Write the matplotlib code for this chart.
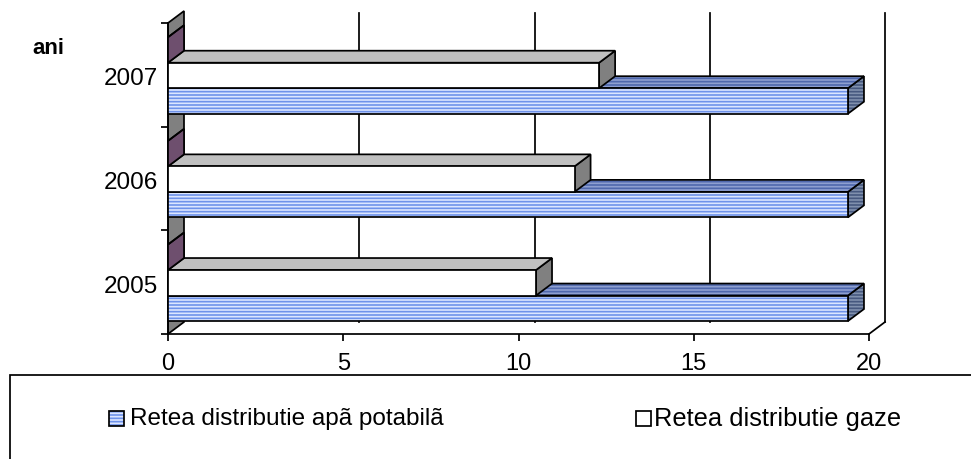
#!/usr/bin/env python
import matplotlib
matplotlib.use("Agg")
import matplotlib.pyplot as plt
from matplotlib.patches import Polygon, Rectangle

plt.rcParams['font.family'] = ['Liberation Sans', 'DejaVu Sans']
plt.rcParams['hatch.linewidth'] = 1.2

# DATA
years = ["2005", "2006", "2007"]
apa = [19.4, 19.4, 19.4]
gaze = [10.5, 11.6, 12.3]
third = [0, 0, 0]
xticks = [0, 5, 10, 15, 20]
label_apa = "Retea distributie apã potabilã"
label_gaze = "Retea distributie gaze"

W, H = 971, 460
LW = 1.25
fig = plt.figure(figsize=(W / 100, H / 100), dpi=100)
# plot area in pixels: x 168-869, y 24-335 from the top
ax = fig.add_axes([168 / W, 1 - 335 / H, 701 / W, 311 / H])
ax.set_xlim(0, 20)
ax.set_ylim(-0.5, 2.5)

# depth of the fake 3d
dx = 16 / 35.05
dy = 12 / 103.67
bar_h = 0.246
gap = 0.125


def face(pts, fc, hatch=None, hc=None):
    if hatch:
        ax.add_patch(Polygon(pts, closed=True, facecolor=fc, edgecolor=hc, hatch=hatch, linewidth=0, clip_on=False, zorder=3))
        ax.add_patch(Polygon(pts, closed=True, fill=False, edgecolor='k', linewidth=LW, clip_on=False, zorder=3))
    else:
        ax.add_patch(Polygon(pts, closed=True, facecolor=fc, edgecolor='k', linewidth=LW, clip_on=False, zorder=3))


def box(val, y0, front, top, side, hatch=None, hc=(None, None, None)):
    y1 = y0 + bar_h
    face([(val, y0), (val + dx, y0 + dy), (val + dx, y1 + dy), (val, y1)], side, hatch, hc[2])
    face([(0, y1), (val, y1), (val + dx, y1 + dy), (dx, y1 + dy)], top, hatch, hc[1])
    if val > 0:
        face([(0, y0), (val, y0), (val, y1), (0, y1)], front, hatch, hc[0])


# back wall grid lines
for v in xticks[1:]:
    ax.plot([v + dx, v + dx], [-0.5 + dy, 2.5 + dy - 0.02], color='k', lw=LW, clip_on=False, zorder=1)

# left wall and floor edges
ax.add_patch(Polygon([(0, -0.5), (dx, -0.5 + dy), (dx, 2.5 + dy), (0, 2.5)], closed=True,
                     facecolor='#808080', edgecolor='k', linewidth=LW, clip_on=False, zorder=2))
ax.plot([20, 20 + dx], [-0.5, -0.5 + dy], color='k', lw=LW, clip_on=False, zorder=1)

# bars, back ones first
for i in [2, 1, 0]:
    y = i - 0.5 + gap
    box(apa[i], y, '#dce6ff', '#8e9fd0', '#8090ad', hatch='-----', hc=('#6e92ea', '#4f68ad', '#46587f'))
    y += bar_h
    box(gaze[i], y, 'white', '#c0c0c0', '#808080')
    y += bar_h
    box(third[i], y, '#6e4f6e', '#6e4f6e', '#6e4f6e')

ax.set_xticks(xticks)
ax.set_yticks([-0.5, 0.5, 1.5, 2.5], minor=False, labels=[])
ax.set_yticks([-0.01, 0.99, 1.99], minor=True, labels=years)
ax.tick_params(axis='x', length=5, width=LW, pad=8, labelsize=17)
ax.tick_params(axis='y', which='major', length=5, width=LW)
ax.tick_params(axis='y', which='minor', length=0, pad=7, labelsize=17.5)
ax.spines['top'].set_visible(False)
ax.spines['right'].set_visible(False)
ax.spines['left'].set_linewidth(LW)
ax.spines['bottom'].set_linewidth(LW)
ax.set_axisbelow(False)

fig.text(32 / W, 1 - 48.5 / H, "ani", fontsize=16, fontweight='bold', va='center', ha='left')

# legend box runs off the figure on the right and bottom
fig.add_artist(Rectangle((10 / W, -0.1), 1.1, 1 - 376 / H + 0.1, transform=fig.transFigure,
                         fill=False, edgecolor='k', linewidth=LW))
fig.add_artist(Rectangle((109 / W, 1 - 427 / H), 15 / W, 15 / H, transform=fig.transFigure,
                         facecolor='#dce6ff', edgecolor='#6e92ea', hatch='-----', linewidth=0))
fig.add_artist(Rectangle((109 / W, 1 - 427 / H), 15 / W, 15 / H, transform=fig.transFigure,
                         fill=False, edgecolor='k', linewidth=LW))
fig.add_artist(Rectangle((636 / W, 1 - 427 / H), 15 / W, 15 / H, transform=fig.transFigure,
                         facecolor='white', edgecolor='k', linewidth=LW))
fig.text(130 / W, 1 - 419 / H, label_apa, fontsize=17.5, va='center', ha='left')
fig.text(654 / W, 1 - 419 / H, label_gaze, fontsize=18.4, va='center', ha='left')

fig.savefig("out.png", dpi=100)
